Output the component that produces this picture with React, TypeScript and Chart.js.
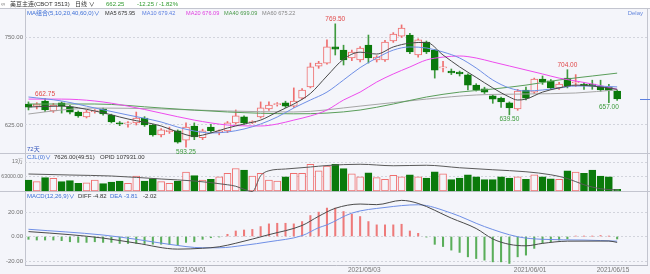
import React, { useEffect, useRef } from "react";
import { Chart, registerables } from "chart.js";
Chart.register(...registerables);

const DATES = [
  "2021/03/05","2021/03/08","2021/03/09","2021/03/10","2021/03/11","2021/03/12","2021/03/15","2021/03/16","2021/03/17","2021/03/18","2021/03/19","2021/03/22","2021/03/23","2021/03/24","2021/03/25","2021/03/26","2021/03/29","2021/03/30","2021/03/31",
  "2021/04/01","2021/04/05","2021/04/06","2021/04/07","2021/04/08","2021/04/09","2021/04/12","2021/04/13","2021/04/14","2021/04/15","2021/04/16","2021/04/19","2021/04/20","2021/04/21","2021/04/22","2021/04/23","2021/04/26","2021/04/27","2021/04/28","2021/04/29","2021/04/30",
  "2021/05/03","2021/05/04","2021/05/05","2021/05/06","2021/05/07","2021/05/10","2021/05/11","2021/05/12","2021/05/13","2021/05/14","2021/05/17","2021/05/18","2021/05/19","2021/05/20","2021/05/21","2021/05/24","2021/05/25","2021/05/26","2021/05/27","2021/05/28",
  "2021/06/01","2021/06/02","2021/06/03","2021/06/04","2021/06/07","2021/06/08","2021/06/09","2021/06/10","2021/06/11","2021/06/14","2021/06/15","2021/06/16",
];
const X_TICKS = ["2021/04/01", "2021/05/03", "2021/06/01", "2021/06/15"];

const OPEN = [655,652,659,645,656.5,651,643.5,636.5,644,648,639,628,626.5,628,635,625,610.75,615.5,616.5,603.5,623.5,607,622,614,616.5,628,636.5,628.5,636.5,648,654,656.5,652,663.5,679.5,709,713.5,736.5,732,720.75,718,739.25,718,718,745,752,753.5,725,743.5,732,706.5,702,700.75,696.5,682,676.5,666.5,663.5,656.5,648,675,672,690.75,688,678,692,685,683.5,683.5,680.75,679.25,673.5];
const HIGH = [658,657,662.75,656,658,653,645,646,647,649,640.5,630,630,643.5,637,626,620,622,618,628,628,619,626,618,630,646.5,638,631,658,658,657,659,678,677,713.5,716,746.5,769.5,739,732,737,753.5,724,746,757,768,756,748,745,733,716,705,702,698,684,679,668,665,658,676,679,692,695,690,686,704,697,686,689,689,683,675];
const LOW = [646.5,648,644,643,642,641,636,635,642,639,628,624,622,625,623,609,608,613,599,593.25,604,604,614,611,614,626,626,627,635,646,652,650,650,662,678,706,712,725,710.75,717,715,713.5,715,716,743,750,727,722,727,692,700.75,697,695,675,673.5,670,656,650,639.5,646,661,670,683,676,676,678,680,676,676,673,657,660];
const CLOSE = [650.5,655,646.5,653.5,652,643.5,638,643.5,645.5,641,629.5,626.5,628,635,625,610.75,618,617.5,600.5,622,608,616.5,616.5,616.5,628,638,628,629.5,649.5,653.5,655,652,659.25,675,708,713.5,736.5,733.5,718,729.25,735,720.75,722,743.5,755,763.5,729.25,746.5,729.25,703.5,708,699.25,698,682,675,672,662,658,649.25,673.5,663.5,690.75,686.5,678,683.5,680.75,686.5,680.75,681,675,674.5,662.25];

const VOLUME = [49000,42000,60000,57000,42000,46500,34000,37000,49000,33000,40000,45000,34000,67000,45000,55500,42000,34000,45000,85000,69000,49000,52000,64000,79000,101000,94000,67000,79000,49000,45000,64000,79000,79000,119000,90000,112000,119000,100000,77000,64000,82000,60000,52000,70000,63000,73000,63000,58000,86000,77000,51000,58000,73000,63000,51000,51000,63000,58000,63000,52000,73000,63000,55000,52000,90000,85000,79000,94000,67000,63000,7626];

const OPEN_INTEREST: [number, number][] = [[0,236000],[5,228000],[10,220000],[16,196000],[20,180000],[24,150000],[25,138000],[26,114000],[27,96000],[28,222000],[29,262000],[31,276000],[34,292000],[36,304000],[40,314000],[44,302000],[48,306000],[52,286000],[56,270000],[60,254000],[63,230000],[65,200000],[67,150000],[69,118000],[71,107931]];

const MA5: [number, number][] = [[0,650.7],[4,652],[8,645],[12,633.6],[16,623.6],[18,615],[20,609],[22,613.6],[24,620.7],[26,626.4],[28,632],[30,643.6],[32,655],[34,670],[36,695],[38,719],[40,729],[42,726.4],[44,736.5],[46,742],[48,743],[50,725],[52,708],[54,693],[56,678],[58,665],[59,660.7],[60,662],[62,672],[64,678],[66,682],[68,680.7],[71,675.95]];
const MA10: [number, number][] = [[0,665],[4,659.3],[8,649.3],[12,639.3],[16,629.3],[18,622],[20,616.4],[22,613.6],[24,615],[26,619.3],[28,626.4],[30,636.4],[32,649.3],[34,660.7],[36,672],[38,689.3],[40,707],[42,720.7],[44,732],[46,736.5],[48,735],[50,729.3],[52,720.7],[54,706.4],[56,689.3],[58,677.9],[60,673.6],[62,675],[64,677.9],[66,680.7],[68,680.7],[71,679.42]];
const MA20: [number, number][] = [[0,662],[4,662],[8,659.3],[12,652],[16,642],[20,632],[24,625],[28,623.6],[30,626.4],[32,632],[34,637.9],[36,646.4],[38,660.7],[40,672],[42,686.4],[44,697.9],[46,707.9],[48,717.9],[50,722],[52,723.6],[54,720.7],[56,715],[58,709.3],[60,703.6],[62,697.9],[64,692],[66,687.9],[68,683.6],[71,676.09]];
const MA40: [number, number][] = [[0,655],[8,655],[16,649.3],[24,643.6],[32,641],[36,642],[40,646.4],[44,655],[48,665],[52,672],[56,676.4],[60,682],[64,689.3],[68,695],[71,699.09]];
const MA60: [number, number][] = [[0,640.7],[4,646.4],[8,649.3],[16,647.9],[24,645],[32,643.6],[40,652],[48,662],[54,667.9],[60,669.3],[66,670.7],[71,675.22]];

const MACD_HIST = [-2.3,-2.9,-2.9,-2.9,-3.4,-4.3,-4.8,-4.8,-4.3,-4.8,-4.8,-5.7,-5.7,-5.7,-5.7,-6.3,-6.3,-6.6,-7.1,-4.8,-4.3,-2.3,-1,-0.3,1.8,4.5,5.3,5.8,8.1,10.3,10.8,10.8,10.3,12.2,17.1,19.9,23.2,23.2,20.4,18.2,16.3,12.2,9.5,9.5,9.5,10,4.5,2.6,-0.5,-6.4,-8.2,-11.1,-13,-16.6,-18,-19.3,-20.7,-20.7,-22,-16.6,-15.2,-9.7,-5.6,-4.3,-2.9,-1.9,0.3,0.2,0.2,0.8,0.2,-2.02];
const DIFF: [number, number][] = [[0,4],[5,1.5],[9,-1.3],[13,-5.4],[18,-10.3],[21,-9.6],[23,-8.4],[25,-5.5],[29,1.5],[33,9],[35,16.5],[37,23],[40,26.5],[42,26],[45,29.5],[47,27],[51,15],[54,6.5],[56,-2],[58,-6.4],[60,-7.6],[62,-5.6],[65,-3.8],[70,-3.7],[71,-4.82]];
const DEA: [number, number][] = [[0,5.9],[9,1.2],[13,-2.3],[17,-6.4],[21,-9.2],[23,-9.2],[26,-7.2],[29,-4.3],[33,0.7],[35,7.2],[36,9.5],[39,19.1],[43,23.7],[47,25.9],[51,19.1],[55,8.1],[59,-0.2],[62,-2.3],[67,-2.9],[71,-3.81]];

const PRICE_TICKS = [750, 625];
const VOLUME_TICKS = [130000, 63000];
const MACD_TICKS = [20, 0, -20];
const HIGH_MARKS = [2, 37, 65];
const LOW_MARKS = [19, 58, 70];

const W = 650, H = 274;
const AREA_TOP = 9, AREA_BOTTOM = 265, AREA_LEFT = 25, AREA_RIGHT = 647;
const BG = "#f4f5fa";
const RED = "#ef6f6f";
const GREEN_FILL = "#0b7a0b";
const GREEN_WICK = "#3f9a3f";
const FONT_FAMILY = "'Liberation Sans', 'Noto Sans CJK SC', sans-serif";
const FONT = "6px " + FONT_FAMILY;
const LEGEND_FONT = "5.6px " + FONT_FAMILY;

function extrap(v1: number, y1: number, v2: number, y2: number) {
  const k = (v1 - v2) / (y2 - y1);
  return { max: v1 + (y1 - AREA_TOP) * k, min: v1 - (AREA_BOTTOM - y1) * k };
}

function yAxis(range: { min: number; max: number }, ticks: number[] | null, fmt?: (v: number) => string, size = 6) {
  return {
    type: "linear",
    position: "left",
    min: range.min,
    max: range.max,
    display: ticks ? true : false,
    afterFit: (s: any) => { s.width = 0; },
    afterBuildTicks: (s: any) => { if (ticks) s.ticks = ticks.map((v) => ({ value: v })); },
    grid: { color: "#d2d4dc", drawTicks: false, lineWidth: 1 },
    border: { display: false, dash: [2, 2] },
    ticks: {
      autoSkip: false,
      padding: 2,
      color: "#707070",
      font: { family: FONT_FAMILY, size },
      callback: (v: number) => (fmt ? fmt(v) : String(v)),
    },
  };
}

export default function App() {
  const ref = useRef<HTMLCanvasElement | null>(null);
  useEffect(() => {
    document.body.style.margin = "0";
    const canvas = ref.current;
    if (!canvas) return;
    const n = CLOSE.length;
    const up = CLOSE.map((c, i) => c >= OPEN[i]);
    const candleFill = up.map((u) => (u ? BG : GREEN_FILL));
    const candleBorder = up.map((u) => (u ? RED : GREEN_FILL));
    const wickColor = up.map((u) => (u ? RED : GREEN_WICK));
    const idx = CLOSE.map((_, i) => i);
    const pts = (arr: [number, number][]) => arr.map(([x, y]) => ({ x, y }));
    const line = (label: string, data: [number, number][], color: string, axis: string, order = 2) => ({
      type: "line",
      label,
      data: pts(data),
      yAxisID: axis,
      borderColor: color,
      borderWidth: 1,
      pointRadius: 0,
      cubicInterpolationMode: "monotone",
      order,
    });

    const priceRange = extrap(750, 37.5, 625, 125);
    const volRange = extrap(0, 191, 130000, 162);
    const oiRange = extrap(100000, 191, 300000, 166);
    const macdRange = extrap(20, 212, -20, 261);

    const overlay = {
      id: "overlay",
      afterLayout(chart: any) {
        ["yPrice", "yVol", "yMacd"].forEach((id) => {
          const s = chart.scales[id];
          if (s) s.left = 0;
        });
      },
      beforeDraw(chart: any) {
        const ctx = chart.ctx;
        ctx.save();
        ctx.fillStyle = BG;
        ctx.fillRect(0, 0, W, H);
        ctx.fillStyle = "#ffffff";
        ctx.fillRect(0, 0, W, 8.5);
        ctx.strokeStyle = "#c3c5cf";
        ctx.lineWidth = 1;
        const hl = (y: number) => { ctx.beginPath(); ctx.moveTo(0, y); ctx.lineTo(W, y); ctx.stroke(); };
        hl(8.5); hl(153.5); hl(191.5);
        ctx.beginPath(); ctx.moveTo(AREA_LEFT + 0.5, 8.5); ctx.lineTo(AREA_LEFT + 0.5, AREA_BOTTOM); ctx.stroke();
        ctx.beginPath(); ctx.moveTo(AREA_RIGHT + 0.5, 8.5); ctx.lineTo(AREA_RIGHT + 0.5, AREA_BOTTOM); ctx.stroke();
        ctx.restore();
      },
      afterDraw(chart: any) {
        const ctx = chart.ctx;
        const xs = chart.scales.x;
        const yp = chart.scales.yPrice;
        ctx.save();
        ctx.font = FONT;
        ctx.textBaseline = "middle";
        const t = (s: string, x: number, y: number, c: string, align = "left") => {
          ctx.fillStyle = c; ctx.textAlign = align; ctx.fillText(s, x, y);
        };
        // header bar
        t("∞", 1, 4.5, "#777");
        t("美豆主连(CBOT 3513)", 10, 4.5, "#333");
        t("日线 ∨", 75, 4.5, "#333");
        t("662.25", 106, 4.5, "#2f9a2f");
        t("-12.25 / -1.82%", 137, 4.5, "#2f9a2f");
        // MA legend
        t("MA组合(5,10,20,40,60,0)∨", 27, 13.5, "#3d6fd6");
        ctx.font = LEGEND_FONT;
        t("MA5 675.95", 105, 13.5, "#333");
        t("MA10 679.42", 142, 13.5, "#5b7fe0");
        t("MA20 676.09", 186, 13.5, "#e040e0");
        t("MA40 699.09", 224, 13.5, "#4a9a4a");
        t("MA60 675.22", 262, 13.5, "#888");
        ctx.font = FONT;
        t("Delay", 643, 13.5, "#6688dd", "right");
        t("72天", 27, 149.5, "#3355bb");
        // volume header
        t("CJL(0)∨", 27, 157.5, "#3d6fd6");
        t("7626.00(49:51)", 54, 157.5, "#333");
        t("OPID 107931.00", 100, 157.5, "#333");
        // macd header
        t("MACD(12,26,9)∨", 27, 196, "#3d6fd6");
        t("DIFF -4.82", 78, 196, "#333");
        t("DEA -3.81", 110, 196, "#3d6fd6");
        t("-2.02", 143, 196, "#333");
        // high / low marks
        ctx.font = "6.5px " + FONT_FAMILY;
        HIGH_MARKS.forEach((i) => t(HIGH[i].toFixed(2), xs.getPixelForValue(i), yp.getPixelForValue(HIGH[i]) - 4.5, "#e04848", "center"));
        LOW_MARKS.forEach((i) => t(LOW[i].toFixed(2), xs.getPixelForValue(i), yp.getPixelForValue(LOW[i]) + 4.5, "#3a9a3a", "center"));
        // last price marker
        const yc = Math.round(yp.getPixelForValue(CLOSE[n - 1])) + 0.5;
        ctx.strokeStyle = "#5b7fe0";
        ctx.lineWidth = 1;
        ctx.beginPath(); ctx.moveTo(640, yc); ctx.lineTo(W, yc); ctx.stroke();
        ctx.restore();
      },
    };

    const chart = new Chart(canvas, {
      type: "bar",
      data: {
        datasets: [
          {
            label: "wick",
            data: idx.map((i) => ({ x: i, y: [LOW[i], HIGH[i]] })),
            yAxisID: "yPrice",
            backgroundColor: wickColor,
            borderWidth: 0,
            barThickness: 1,
            grouped: false,
            order: 10,
          },
          {
            label: "body",
            data: idx.map((i) => ({ x: i, y: [OPEN[i], CLOSE[i]] })),
            yAxisID: "yPrice",
            backgroundColor: candleFill,
            borderColor: candleBorder,
            borderWidth: 1,
            borderSkipped: false,
            barThickness: 7,
            minBarLength: 1,
            grouped: false,
            order: 9,
          },
          line("MA60", MA60, "#a6a6a6", "yPrice", 6),
          line("MA40", MA40, "#5a9e5a", "yPrice", 5),
          line("MA20", MA20, "#ee4cee", "yPrice", 4),
          line("MA10", MA10, "#6f8fe6", "yPrice", 3),
          line("MA5", MA5, "#4a4a4a", "yPrice", 2),
          {
            label: "volume",
            data: idx.map((i) => ({ x: i, y: VOLUME[i] })),
            yAxisID: "yVol",
            backgroundColor: candleFill,
            borderColor: candleBorder,
            borderWidth: 1,
            borderSkipped: false,
            barThickness: 7,
            grouped: false,
            order: 8,
          },
          line("OPID", OPEN_INTEREST, "#5a5a5a", "yOI", 1),
          {
            label: "MACD",
            data: idx.map((i) => ({ x: i, y: MACD_HIST[i] })),
            yAxisID: "yMacd",
            backgroundColor: MACD_HIST.map((v) => (v >= 0 ? "#ee7a7a" : "#5aae5a")),
            borderWidth: 0,
            barThickness: 1.4,
            grouped: false,
            order: 7,
          },
          line("DIFF", DIFF, "#4a4a4a", "yMacd", 1),
          line("DEA", DEA, "#6f8fe6", "yMacd", 1),
        ] as any,
      },
      options: {
        animation: false,
        responsive: false,
        devicePixelRatio: 1,
        layout: { padding: { left: AREA_LEFT, right: W - AREA_RIGHT, top: AREA_TOP, bottom: 0 } },
        plugins: { legend: { display: false }, tooltip: { enabled: false } },
        scales: {
          x: {
            type: "linear",
            min: -0.42,
            max: 74.6,
            offset: false,
            afterFit: (s: any) => { s.height = H - AREA_BOTTOM; },
            afterBuildTicks: (s: any) => { s.ticks = X_TICKS.map((d) => ({ value: DATES.indexOf(d) + 0.5 })); },
            grid: { display: false, drawTicks: false },
            border: { display: true, color: "#b8bac4" },
            ticks: {
              autoSkip: false,
              maxRotation: 0,
              padding: 1,
              color: "#777",
              font: { family: FONT_FAMILY, size: 6.5 },
              callback: (_v: number, i: number) => X_TICKS[i],
            },
          },
          yPrice: yAxis(priceRange, PRICE_TICKS, (v) => v.toFixed(2)),
          yVol: yAxis(volRange, VOLUME_TICKS, (v) => (v === 130000 ? "13万" : v.toFixed(2)), 5.2),
          yOI: yAxis(oiRange, null),
          yMacd: yAxis(macdRange, MACD_TICKS, (v) => v.toFixed(2)),
        } as any,
      },
      plugins: [overlay],
    });
    return () => chart.destroy();
  }, []);
  return (
    <div style={{ width: W, height: H }}>
      <canvas ref={ref} width={W} height={H} style={{ display: "block", width: W, height: H }} />
    </div>
  );
}
